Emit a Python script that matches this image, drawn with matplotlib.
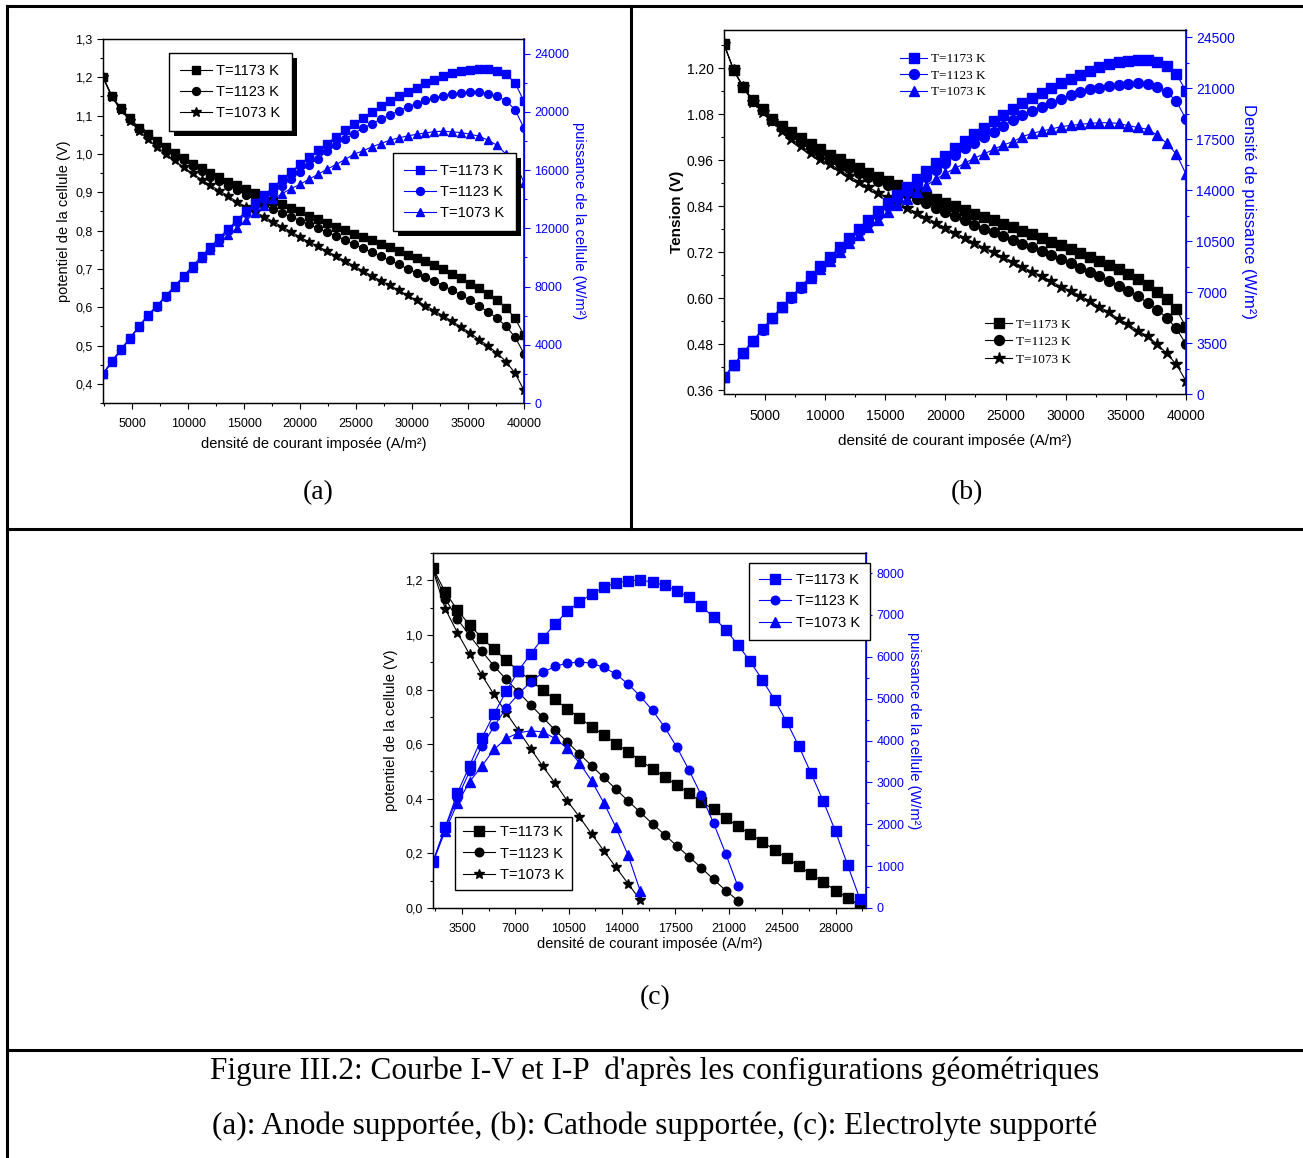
import matplotlib
matplotlib.use('Agg')
import matplotlib.pyplot as plt
from matplotlib.ticker import MultipleLocator, FuncFormatter
from matplotlib.lines import Line2D
from matplotlib.patches import Rectangle

plt.rcParams['font.family'] = ['Liberation Sans', 'DejaVu Sans']
plt.rcParams['xtick.direction'] = 'out'
plt.rcParams['ytick.direction'] = 'out'

BLEU = '#0000ff'
W, H = 1303, 1158
temperatures = ['T=1173 K', 'T=1123 K', 'T=1073 K']

# ---------- (a) anode supportée ----------
courant_a = [2400, 3200, 4000, 4800, 5600, 6400, 7200, 8000, 8800, 9600,
             10400, 11200, 12000, 12800, 13600, 14400, 15200, 16000, 16800, 17600,
             18400, 19200, 20000, 20800, 21600, 22400, 23200, 24000, 24800, 25600,
             26400, 27200, 28000, 28800, 29600, 30400, 31200, 32000, 32800, 33600,
             34400, 35200, 36000, 36800, 37600, 38400, 39200, 40000]
tension_a_1173 = [1.202, 1.151, 1.119, 1.093, 1.069, 1.053, 1.033, 1.017, 1.003, 0.989,
                  0.975, 0.963, 0.950, 0.939, 0.927, 0.918, 0.908, 0.897, 0.886, 0.878,
                  0.869, 0.859, 0.850, 0.839, 0.830, 0.820, 0.810, 0.802, 0.792, 0.783,
                  0.776, 0.766, 0.757, 0.748, 0.737, 0.729, 0.720, 0.709, 0.699, 0.687,
                  0.675, 0.661, 0.650, 0.635, 0.620, 0.599, 0.571, 0.527]
tension_a_1123 = [1.200, 1.150, 1.117, 1.090, 1.066, 1.049, 1.029, 1.012, 0.997, 0.983,
                  0.968, 0.955, 0.941, 0.929, 0.916, 0.905, 0.893, 0.879, 0.866, 0.857,
                  0.846, 0.836, 0.826, 0.816, 0.806, 0.796, 0.786, 0.776, 0.764, 0.755,
                  0.743, 0.733, 0.722, 0.712, 0.700, 0.690, 0.679, 0.668, 0.656, 0.644,
                  0.631, 0.618, 0.603, 0.588, 0.571, 0.550, 0.522, 0.479]
tension_a_1073 = [1.200, 1.148, 1.114, 1.087, 1.061, 1.039, 1.018, 1.000, 0.983, 0.965,
                  0.949, 0.933, 0.918, 0.904, 0.890, 0.874, 0.862, 0.849, 0.836, 0.823,
                  0.810, 0.797, 0.783, 0.770, 0.759, 0.746, 0.734, 0.721, 0.708, 0.695,
                  0.682, 0.669, 0.657, 0.644, 0.631, 0.618, 0.604, 0.591, 0.577, 0.563,
                  0.548, 0.533, 0.515, 0.499, 0.480, 0.458, 0.428, 0.383]
puissance_a_1173 = [2015, 2885, 3687, 4466, 5267, 6046, 6664, 7374, 8038, 8725,
                    9412, 10076, 10717, 11358, 11977, 12595, 13190, 13763, 14290, 14839,
                    15366, 15870, 16396, 16877, 17358, 17816, 18274, 18732, 19144, 19557,
                    19992, 20381, 20725, 21068, 21389, 21663, 21984, 22213, 22442, 22648,
                    22808, 22900, 22946, 22946, 22808, 22579, 21984, 20725]
puissance_a_1123 = [2000, 2870, 3665, 4440, 5230, 6000, 6610, 7310, 7960, 8640,
                    9300, 9930, 10540, 11150, 11830, 12420, 13020, 13557, 13992, 14427,
                    14908, 15389, 15870, 16350, 16786, 17290, 17702, 18114, 18503, 18870,
                    19167, 19488, 19763, 20060, 20335, 20564, 20793, 20954, 21114, 21205,
                    21297, 21366, 21366, 21251, 21068, 20747, 20152, 18870]
puissance_a_1073 = [1969, 2817, 3618, 4420, 5221, 5954, 6641, 7328, 7969, 8656,
                    9297, 9939, 10488, 11060, 11519, 12045, 12549, 13053, 13511, 13992,
                    14381, 14725, 15022, 15366, 15710, 16053, 16373, 16717, 17083, 17312,
                    17587, 17816, 18045, 18206, 18343, 18457, 18549, 18641, 18663, 18618,
                    18572, 18457, 18320, 18045, 17702, 17083, 16557, 15137]

# ---------- (b) cathode supportée ----------
courant_b = [1600] + courant_a
tension_b_1173 = [1.263, 1.196, 1.152, 1.117, 1.093, 1.069, 1.050, 1.034, 1.017, 1.002,
                  0.989, 0.975, 0.963, 0.950, 0.939, 0.928, 0.917, 0.907, 0.895, 0.887,
                  0.876, 0.868, 0.859, 0.849, 0.841, 0.831, 0.821, 0.813, 0.803, 0.794,
                  0.785, 0.776, 0.767, 0.757, 0.748, 0.738, 0.728, 0.719, 0.708, 0.698,
                  0.687, 0.675, 0.663, 0.650, 0.634, 0.617, 0.597, 0.571, 0.525]
tension_b_1123 = [1.263, 1.195, 1.150, 1.115, 1.090, 1.066, 1.046, 1.029, 1.012, 0.996,
                  0.982, 0.967, 0.952, 0.941, 0.928, 0.917, 0.907, 0.895, 0.882, 0.871,
                  0.859, 0.848, 0.836, 0.825, 0.814, 0.804, 0.792, 0.781, 0.772, 0.762,
                  0.752, 0.742, 0.733, 0.723, 0.713, 0.702, 0.692, 0.680, 0.669, 0.658,
                  0.646, 0.633, 0.619, 0.606, 0.588, 0.570, 0.549, 0.521, 0.480]
tension_b_1073 = [1.263, 1.196, 1.150, 1.112, 1.085, 1.062, 1.037, 1.016, 0.997, 0.980,
                  0.963, 0.950, 0.935, 0.919, 0.904, 0.891, 0.875, 0.863, 0.849, 0.836,
                  0.823, 0.810, 0.797, 0.784, 0.771, 0.758, 0.745, 0.732, 0.720, 0.707,
                  0.695, 0.682, 0.669, 0.658, 0.644, 0.630, 0.619, 0.607, 0.592, 0.578,
                  0.563, 0.546, 0.532, 0.515, 0.501, 0.480, 0.456, 0.427, 0.384]
puissance_b_1173 = [1145, 1991, 2838, 3640, 4441, 5242, 5997, 6684, 7371, 8103,
                    8790, 9431, 10072, 10713, 11331, 11949, 12544, 13116, 13688, 14237,
                    14764, 15313, 15840, 16366, 16870, 17373, 17831, 18289, 18724, 19159,
                    19548, 19960, 20326, 20693, 21036, 21357, 21654, 21929, 22181, 22432,
                    22639, 22799, 22890, 22936, 22936, 22776, 22524, 21975, 20807]
puissance_b_1123 = [1140, 1985, 2825, 3620, 4415, 5205, 5950, 6625, 7300, 8020,
                    8690, 9320, 9940, 10560, 11170, 11750, 12292, 12910, 13437, 13963,
                    14420, 14924, 15382, 15886, 16412, 16870, 17259, 17625, 18015, 18404,
                    18816, 19136, 19457, 19731, 20006, 20281, 20510, 20739, 20922, 21036,
                    21151, 21242, 21311, 21334, 21288, 21105, 20739, 20121, 18862]
puissance_b_1073 = [1140, 1985, 2830, 3630, 4430, 5225, 5990, 6660, 7330, 8000,
                    8561, 9156, 9774, 10346, 10900, 11440, 11960, 12470, 12956, 13413,
                    13871, 14306, 14741, 15153, 15496, 15840, 16206, 16480, 16801, 17099,
                    17328, 17671, 17900, 18060, 18198, 18358, 18449, 18518, 18587, 18632,
                    18632, 18587, 18427, 18312, 18175, 17785, 17213, 16480, 15107]

# ---------- (c) électrolyte supporté ----------
courant_c = courant_b[:36]
tension_c_1173 = [1.244, 1.157, 1.091, 1.036, 0.990, 0.947, 0.908, 0.868, 0.835, 0.797,
                  0.764, 0.730, 0.697, 0.664, 0.633, 0.602, 0.572, 0.540, 0.510, 0.480,
                  0.450, 0.420, 0.389, 0.361, 0.330, 0.299, 0.271, 0.242, 0.213, 0.183,
                  0.153, 0.125, 0.095, 0.064, 0.037, 0.009]
tension_c_1123 = [1.240, 1.133, 1.058, 0.998, 0.941, 0.886, 0.837, 0.791, 0.744, 0.698,
                  0.652, 0.608, 0.565, 0.521, 0.478, 0.435, 0.392, 0.350, 0.308, 0.268,
                  0.227, 0.187, 0.147, 0.105, 0.064, 0.027]
tension_c_1073 = [1.237, 1.096, 1.008, 0.929, 0.853, 0.782, 0.715, 0.650, 0.584, 0.519,
                  0.458, 0.393, 0.334, 0.271, 0.210, 0.149, 0.089, 0.028]
puissance_c_1173 = [1114, 1926, 2746, 3399, 4060, 4633, 5174, 5668, 6066, 6448,
                    6782, 7084, 7307, 7498, 7658, 7761, 7817, 7833, 7785, 7705,
                    7578, 7419, 7204, 6949, 6647, 6288, 5890, 5453, 4975, 4442,
                    3861, 3216, 2547, 1831, 1019, 215]
puissance_c_1123 = [1090, 1911, 2627, 3264, 3861, 4338, 4776, 5110, 5397, 5628,
                    5771, 5851, 5874, 5851, 5747, 5588, 5349, 5055, 4720, 4314,
                    3837, 3288, 2690, 2030, 1297, 517]
puissance_c_1073 = [1091, 1845, 2498, 3015, 3389, 3787, 4049, 4184, 4232, 4208,
                    4049, 3811, 3469, 3039, 2514, 1926, 1258, 398]


fig = plt.figure(figsize=(W / 100, H / 100), dpi=100)


def cadre(l, t, r, b):
    return [l / W, 1 - b / H, (r - l) / W, (b - t) / H]


virgule = FuncFormatter(lambda v, p: f'{v:.1f}'.replace('.', ','))


def panneau(rect, courant, tensions, puissances, xlim, ylim, ylim2, xmaj, ymaj, ymin, pmaj, pmin,
            taille, ms, pad=3.5, lw=0.8):
    ax = fig.add_axes(rect)
    ax2 = ax.twinx()
    for v, m, s in zip(tensions, ['s', 'o', '*'], [1.0, 0.95, 1.2]):
        ax.plot(courant[:len(v)], v, color='k', marker=m, ms=ms * s, lw=lw)
    for p, m, s in zip(puissances, ['s', 'o', '^'], [1.0, 0.95, 1.0]):
        ax2.plot(courant[:len(p)], p, color=BLEU, marker=m, ms=ms * s, lw=lw)
    ax.set_xlim(*xlim)
    ax.set_ylim(*ylim)
    ax2.set_ylim(*ylim2)
    ax.xaxis.set_major_locator(MultipleLocator(xmaj))
    ax.xaxis.set_minor_locator(MultipleLocator(xmaj / 2))
    ax.yaxis.set_major_locator(MultipleLocator(ymaj))
    ax.yaxis.set_minor_locator(MultipleLocator(ymin))
    ax2.yaxis.set_major_locator(MultipleLocator(pmaj))
    ax2.yaxis.set_minor_locator(MultipleLocator(pmin))
    ax.tick_params(labelsize=taille, length=4, width=0.8)
    ax.tick_params(axis='x', pad=pad + 2)
    ax.tick_params(which='minor', length=2.5, width=0.8)
    ax2.tick_params(labelsize=taille, length=4, width=0.8, colors=BLEU)
    ax2.tick_params(which='minor', length=2.5, width=0.8, colors=BLEU)
    ax2.spines['right'].set_color(BLEU)
    for a in (ax, ax2):
        for sp in a.spines.values():
            sp.set_linewidth(0.9)
    ax2.spines['right'].set_linewidth(1.2)
    return ax, ax2


def ombre(ax2, leg, d=5):
    fig.canvas.draw()
    bb = leg.get_window_extent()
    inv = ax2.transAxes.inverted()
    (x0, y0), (x1, y1) = inv.transform([(bb.x0 + d, bb.y0 - d), (bb.x1 + d, bb.y1 - d)])
    ax2.add_patch(Rectangle((x0, y0), x1 - x0, y1 - y0, transform=ax2.transAxes,
                            facecolor='k', edgecolor='none', zorder=4.5, clip_on=False))


def legende(ax2, lignes, loc, ancre, fs, cadre_on=True, prop=None, esp=0.5, bpad=0.65, hl=2.2):
    leg = ax2.legend(lignes, temperatures, loc=loc, bbox_to_anchor=ancre, borderaxespad=0,
                     frameon=cadre_on, fancybox=False, edgecolor='k', framealpha=1,
                     handlelength=hl, handletextpad=0.3, labelspacing=esp,
                     borderpad=bpad, prop=prop if prop else {'size': fs})
    if cadre_on:
        leg.get_frame().set_linewidth(1.0)
    return leg


# (a)
ax, ax2 = panneau(cadre(103, 39, 524, 403), courant_a,
                  [tension_a_1173, tension_a_1123, tension_a_1073],
                  [puissance_a_1173, puissance_a_1123, puissance_a_1073],
                  (2400, 40000), (0.35, 1.3), (0, 25000), 5000, 0.1, 0.05, 4000, 2000, 9, 6,
                  pad=5)
ax.yaxis.set_major_formatter(virgule)
ax.set_xlabel('densité de courant imposée (A/m²)', fontsize=10.5, labelpad=5)
ax.set_ylabel('potentiel de la cellule (V)', fontsize=10.5, labelpad=3)
ax2.set_ylabel('puissance de la cellule (W/m²)', fontsize=10.5, color=BLEU, rotation=-90,
               labelpad=12)
l1 = legende(ax2, ax.get_lines(), 'upper left', (0.157, 0.962), 10.5, bpad=0.75)
ax2.add_artist(l1)
l2 = legende(ax2, ax2.get_lines(), 'upper left', (0.689, 0.687), 10.5, bpad=0.75)
ombre(ax2, l1)
ombre(ax2, l2)

# (b)
ax, ax2 = panneau(cadre(724, 30, 1186, 394), courant_b,
                  [tension_b_1173, tension_b_1123, tension_b_1073],
                  [puissance_b_1173, puissance_b_1123, puissance_b_1073],
                  (1600, 40000), (0.35, 1.3), (0, 25000), 5000, 0.12, 0.06, 3500, 1750, 10, 7.5,
                  pad=4.5)
ax.yaxis.set_major_formatter(FuncFormatter(lambda v, p: f'{v:.2f}'))
ax.set_xlabel('densité de courant imposée (A/m²)', fontsize=11, labelpad=8)
ax.set_ylabel('Tension (V)', fontsize=11, fontweight='bold', labelpad=2)
ax2.set_ylabel('Densité de puissance (W/m²)', fontsize=12, color=BLEU, rotation=-90,
               labelpad=15)
serif = {'family': 'Liberation Serif', 'size': 9.5}
l1 = legende(ax2, ax2.get_lines(), 'upper left', (0.381, 0.937), 9.5, False, serif,
             esp=0.33, bpad=0, hl=2.05)
ax2.add_artist(l1)
legende(ax2, ax.get_lines(), 'upper left', (0.565, 0.208), 9.5, False, serif,
        esp=0.4, bpad=0, hl=2.05)

# (c)
ax, ax2 = panneau(cadre(433, 553, 866, 908), courant_c,
                  [tension_c_1173, tension_c_1123, tension_c_1073],
                  [puissance_c_1173, puissance_c_1123, puissance_c_1073],
                  (1600, 30000), (0, 1.3), (0, 8480), 3500, 0.2, 0.1, 1000, 500, 9, 6.5,
                  pad=4.5)
ax.yaxis.set_major_formatter(virgule)
ax.set_xlabel('densité de courant imposée (A/m²)', fontsize=10.5, labelpad=2)
ax.set_ylabel('potentiel de la cellule (V)', fontsize=10.5, labelpad=5)
ax2.set_ylabel('puissance de la cellule (W/m²)', fontsize=10.5, color=BLEU, rotation=-90,
               labelpad=12)
l1 = legende(ax2, ax2.get_lines(), 'upper left', (0.730, 0.972), 10.5, bpad=0.7)
ax2.add_artist(l1)
legende(ax2, ax.get_lines(), 'lower left', (0.051, 0.051), 10.5, bpad=0.55)

# panneaux et légende de la figure
for txt, x, y in [('(a)', 318, 493), ('(b)', 967, 493), ('(c)', 655, 998)]:
    fig.text(x / W, 1 - y / H, txt, ha='center', va='center', fontsize=20,
             family='Liberation Serif')
fig.text(655 / W, 1 - 1071 / H, "Figure III.2: Courbe I-V et I-P  d'après les configurations géométriques",
         ha='center', va='center', fontsize=22.5, family='Liberation Serif')
fig.text(655 / W, 1 - 1126 / H, "(a): Anode supportée, (b): Cathode supportée, (c): Electrolyte supporté",
         ha='center', va='center', fontsize=22.5, family='Liberation Serif')

# traits du tableau
for (xa, ya, xb, yb) in [(7, 6, 1303, 6), (7, 6, 7, 1158), (631, 6, 631, 529),
                         (7, 529, 1303, 529), (7, 1050, 1303, 1050)]:
    fig.add_artist(Line2D([xa / W, xb / W], [1 - ya / H, 1 - yb / H], color='k', lw=2.2))

fig.savefig('out.png', dpi=100)
